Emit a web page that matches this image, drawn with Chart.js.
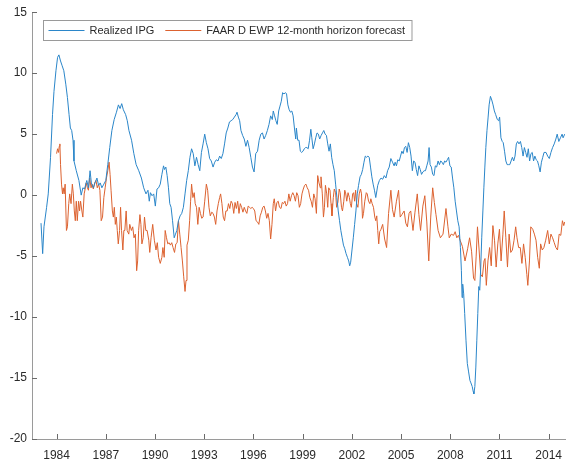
<!DOCTYPE html>
<html>
<head>
<meta charset="utf-8">
<title>Realized IPG vs FAAR D EWP forecast</title>
<script src="https://cdn.jsdelivr.net/npm/chart.js@4.4.1/dist/chart.umd.min.js"></script>
<style>
  html, body { margin: 0; padding: 0; background: #fff; }
  #wrap { width: 571px; height: 466px; }
</style>
</head>
<body>
<div id="wrap"><canvas id="ipgChart" width="571" height="466"></canvas></div>
<script>
// series names and tick labels
const seriesNames = ["Realized IPG", "FAAR D EWP 12-month horizon forecast"];
const yearTicks = [1984, 1987, 1990, 1993, 1996, 1999, 2002, 2005, 2008, 2011, 2014];
const valueTicks = [-20, -15, -10, -5, 0, 5, 10, 15];

// realized IPG (%)
const ipgYears = [
  1983.05, 1983.15, 1983.23, 1983.39, 1983.49, 1983.63, 1983.75, 1983.84, 1983.96, 1984.06,
  1984.14, 1984.24, 1984.34, 1984.44, 1984.56, 1984.66, 1984.76, 1984.84, 1984.92, 1985.0,
  1985.06, 1985.2, 1985.36, 1985.5, 1985.6, 1985.7, 1985.84, 1985.94, 1986.04, 1986.12,
  1986.24, 1986.34, 1986.46, 1986.56, 1986.66, 1986.76, 1986.88, 1987.0, 1987.12, 1987.24,
  1987.37, 1987.51, 1987.65, 1987.77, 1987.87, 1987.97, 1988.07, 1988.21, 1988.31, 1988.41,
  1988.57, 1988.71, 1988.85, 1989.01, 1989.17, 1989.31, 1989.45, 1989.57, 1989.65, 1989.72,
  1989.82, 1989.92, 1990.02, 1990.12, 1990.22, 1990.32, 1990.42, 1990.52, 1990.58, 1990.66,
  1990.74, 1990.82, 1990.9, 1990.98, 1991.07, 1991.17, 1991.25, 1991.33, 1991.43, 1991.53,
  1991.63, 1991.73, 1991.83, 1991.93, 1992.03, 1992.13, 1992.23, 1992.33, 1992.43, 1992.53,
  1992.63, 1992.73, 1992.83, 1992.93, 1993.03, 1993.13, 1993.23, 1993.33, 1993.43, 1993.54,
  1993.64, 1993.74, 1993.84, 1993.94, 1994.04, 1994.14, 1994.24, 1994.34, 1994.44, 1994.54,
  1994.64, 1994.74, 1994.84, 1994.94, 1995.0, 1995.08, 1995.16, 1995.24, 1995.34, 1995.44,
  1995.54, 1995.64, 1995.74, 1995.84, 1995.94, 1996.04, 1996.14, 1996.25, 1996.35, 1996.45,
  1996.55, 1996.65, 1996.75, 1996.85, 1996.95, 1997.05, 1997.15, 1997.21, 1997.29, 1997.37,
  1997.45, 1997.54, 1997.62, 1997.7, 1997.78, 1997.86, 1997.96, 1998.02, 1998.1, 1998.18,
  1998.26, 1998.34, 1998.42, 1998.5, 1998.58, 1998.62, 1998.7, 1998.78, 1998.86, 1998.94,
  1999.02, 1999.1, 1999.18, 1999.26, 1999.34, 1999.42, 1999.5, 1999.56, 1999.64, 1999.72,
  1999.8, 1999.88, 1999.96, 2000.04, 2000.13, 2000.21, 2000.29, 2000.37, 2000.45, 2000.53,
  2000.61, 2000.69, 2000.77, 2000.85, 2000.93, 2001.01, 2001.09, 2001.17, 2001.25, 2001.33,
  2001.41, 2001.49, 2001.57, 2001.65, 2001.73, 2001.81, 2001.87, 2001.93, 2002.01, 2002.09,
  2002.17, 2002.25, 2002.33, 2002.41, 2002.5, 2002.58, 2002.66, 2002.74, 2002.82, 2002.9,
  2002.98, 2003.06, 2003.14, 2003.22, 2003.3, 2003.38, 2003.46, 2003.58, 2003.68, 2003.78,
  2003.88, 2003.98, 2004.08, 2004.18, 2004.28, 2004.38, 2004.48, 2004.58, 2004.64, 2004.72,
  2004.8, 2004.89, 2004.97, 2005.05, 2005.13, 2005.21, 2005.29, 2005.37, 2005.45, 2005.53,
  2005.61, 2005.69, 2005.77, 2005.85, 2005.93, 2006.01, 2006.09, 2006.17, 2006.25, 2006.33,
  2006.41, 2006.49, 2006.57, 2006.65, 2006.71, 2006.77, 2006.85, 2006.93, 2007.01, 2007.09,
  2007.17, 2007.26, 2007.34, 2007.42, 2007.5, 2007.58, 2007.66, 2007.74, 2007.82, 2007.9,
  2007.98, 2008.06, 2008.14, 2008.22, 2008.3, 2008.38, 2008.46, 2008.54, 2008.62, 2008.68,
  2008.72, 2008.76, 2008.82, 2008.88, 2008.96, 2009.04, 2009.12, 2009.2, 2009.26, 2009.34,
  2009.4, 2009.44, 2009.5, 2009.56, 2009.62, 2009.68, 2009.74, 2009.8, 2009.86, 2009.92,
  2009.99, 2010.05, 2010.11, 2010.17, 2010.24, 2010.31, 2010.37, 2010.45, 2010.53, 2010.61,
  2010.69, 2010.77, 2010.87, 2010.95, 2011.01, 2011.09, 2011.17, 2011.23, 2011.31, 2011.39,
  2011.47, 2011.55, 2011.63, 2011.71, 2011.79, 2011.87, 2011.95, 2012.03, 2012.11, 2012.19,
  2012.28, 2012.36, 2012.44, 2012.52, 2012.6, 2012.68, 2012.76, 2012.84, 2012.92, 2013.0,
  2013.08, 2013.16, 2013.24, 2013.32, 2013.4, 2013.48, 2013.56, 2013.64, 2013.72, 2013.84,
  2013.94, 2014.04, 2014.14, 2014.24, 2014.34, 2014.44, 2014.52, 2014.62, 2014.72, 2014.82,
  2014.88, 2014.98
];
const ipgValues = [
  -2.3, -4.8, -2.6, -1.0, 0.1, 3.1, 6.6, 8.5, 10.2, 11.3,
  11.5, 11.0, 10.6, 10.2, 9.1, 8.0, 6.6, 5.5, 5.3, 4.5,
  2.8, 2.0, 1.2, 0.0, 0.6, 0.5, 1.2, 0.6, 2.0, 1.0,
  0.6, 1.0, 1.4, 0.8, 1.0, 0.6, 0.9, 1.2, 2.5, 3.9,
  5.3, 6.2, 6.8, 7.4, 7.1, 7.5, 7.0, 6.6, 6.1, 5.3,
  4.5, 3.4, 2.5, 2.0, 1.4, 0.6, 0.1, 0.4, -0.5, 0.2,
  -0.05, 0.1, -0.9, 0.5, 0.6, 0.9, 1.7, 2.4, 2.1, 2.3,
  1.6, 0.6, -0.7, -1.0, -2.1, -3.5, -3.2, -2.9, -2.1, -1.7,
  -1.5, -1.0, 0.1, 1.2, 2.0, 3.1, 3.8, 3.4, 2.4, 3.1,
  2.5, 2.0, 3.5, 4.2, 5.0, 4.3, 3.8, 3.0, 2.8, 2.3,
  2.7, 2.9, 2.8, 3.2, 3.0, 3.4, 4.2, 5.1, 5.5, 6.0,
  6.1, 6.2, 6.4, 6.6, 6.8, 6.4, 6.1, 5.3, 4.9, 4.6,
  4.0, 4.5, 3.9, 3.1, 2.3, 1.9, 3.4, 3.6, 4.5, 5.0,
  5.1, 4.6, 4.9, 5.3, 5.8, 6.5, 6.2, 6.9, 6.5, 6.1,
  5.8, 6.9, 7.3, 7.7, 8.4, 8.3, 8.4, 8.3, 7.4, 7.0,
  6.8, 6.9, 6.5, 5.5, 4.6, 5.5, 4.5, 4.5, 3.6, 3.5,
  3.6, 3.8, 3.9, 3.9, 3.8, 4.5, 5.4, 4.7, 3.8, 4.2,
  4.7, 5.1, 5.0, 4.6, 4.9, 5.1, 5.3, 5.0, 4.9, 4.2,
  3.6, 4.2, 3.1, 2.5, 2.0, 0.9, -0.2, -1.3, -2.1, -2.9,
  -3.5, -4.1, -4.4, -4.8, -5.1, -5.4, -5.8, -5.5, -4.5, -3.5,
  -2.4, -1.3, 0.1, 0.8, 1.5, 1.7, 2.1, 2.7, 3.2, 3.1,
  3.2, 3.1, 2.3, 1.5, 0.9, 0.4, -0.2, 0.8, 1.2, 1.4,
  1.3, 1.6, 1.4, 2.0, 2.3, 3.0, 2.7, 2.4, 2.7, 2.4,
  2.9, 2.8, 3.2, 3.6, 3.4, 3.9, 4.0, 3.5, 4.3, 3.9,
  3.2, 2.0, 2.8, 2.7, 2.1, 1.6, 2.4, 2.1, 1.7, 1.9,
  2.0, 2.0, 2.4, 2.8, 3.9, 2.5, 2.3, 1.7, 1.6, 2.4,
  2.3, 2.8, 2.5, 2.8, 2.7, 2.5, 2.8, 2.7, 2.9, 3.1,
  2.4, 2.3, 1.4, 0.6, -0.5, -1.3, -2.1, -2.6, -4.3, -6.2,
  -8.4, -7.3, -8.1, -9.7, -11.9, -13.8, -14.5, -15.2, -15.4, -15.7,
  -16.1, -16.3, -15.7, -14.1, -11.9, -9.7, -7.5, -7.8, -5.9, -3.5,
  -1.3, 0.6, 2.3, 3.9, 5.3, 6.4, 7.4, 8.1, 7.8, 7.4,
  6.9, 6.6, 6.2, 6.1, 6.4, 4.7, 4.4, 4.3, 3.6, 2.8,
  2.5, 2.5, 2.5, 2.8, 3.1, 2.8, 3.2, 4.2, 4.4, 4.2,
  4.4, 3.9, 3.2, 3.9, 3.5, 3.1, 3.8, 2.8, 3.4, 3.5,
  2.8, 3.2, 2.9, 2.8, 2.4, 1.9, 2.7, 3.1, 3.5, 3.5,
  3.2, 3.0, 3.5, 3.9, 4.2, 4.6, 5.0, 4.4, 4.7, 5.0,
  4.7, 5.0
];

// FAAR D EWP 12-month horizon forecast (%)
const fcstYears = [
  1984.0, 1984.06, 1984.12, 1984.16, 1984.2, 1984.24, 1984.3, 1984.36, 1984.4, 1984.46,
  1984.52, 1984.6, 1984.66, 1984.74, 1984.8, 1984.88, 1984.96, 1985.02, 1985.08, 1985.14,
  1985.2, 1985.26, 1985.34, 1985.4, 1985.46, 1985.54, 1985.6, 1985.68, 1985.74, 1985.8,
  1985.88, 1985.94, 1986.02, 1986.1, 1986.16, 1986.24, 1986.32, 1986.4, 1986.48, 1986.56,
  1986.64, 1986.72, 1986.8, 1986.88, 1986.96, 1987.04, 1987.12, 1987.2, 1987.26, 1987.32,
  1987.4, 1987.46, 1987.52, 1987.58, 1987.64, 1987.7, 1987.76, 1987.84, 1987.9, 1987.96,
  1988.04, 1988.1, 1988.16, 1988.24, 1988.3, 1988.4, 1988.46, 1988.56, 1988.64, 1988.72,
  1988.8, 1988.88, 1988.94, 1989.0, 1989.08, 1989.14, 1989.2, 1989.28, 1989.36, 1989.44,
  1989.52, 1989.62, 1989.68, 1989.76, 1989.86, 1989.96, 1990.06, 1990.14, 1990.22, 1990.32,
  1990.42, 1990.48, 1990.56, 1990.62, 1990.7, 1990.78, 1990.86, 1990.94, 1991.02, 1991.1,
  1991.19, 1991.27, 1991.35, 1991.43, 1991.51, 1991.59, 1991.67, 1991.75, 1991.83, 1991.89,
  1991.95, 1992.03, 1992.11, 1992.17, 1992.23, 1992.31, 1992.39, 1992.45, 1992.53, 1992.61,
  1992.69, 1992.77, 1992.85, 1992.93, 1993.03, 1993.13, 1993.21, 1993.29, 1993.37, 1993.46,
  1993.54, 1993.62, 1993.7, 1993.78, 1993.86, 1993.94, 1994.0, 1994.08, 1994.16, 1994.24,
  1994.32, 1994.4, 1994.48, 1994.56, 1994.64, 1994.72, 1994.8, 1994.88, 1994.96, 1995.04,
  1995.12, 1995.2, 1995.28, 1995.36, 1995.44, 1995.52, 1995.6, 1995.68, 1995.76, 1995.84,
  1995.92, 1996.0, 1996.08, 1996.16, 1996.25, 1996.33, 1996.41, 1996.49, 1996.57, 1996.65,
  1996.73, 1996.81, 1996.89, 1996.97, 1997.05, 1997.13, 1997.21, 1997.27, 1997.35, 1997.43,
  1997.51, 1997.59, 1997.68, 1997.76, 1997.84, 1997.92, 1998.0, 1998.08, 1998.16, 1998.24,
  1998.32, 1998.4, 1998.48, 1998.56, 1998.64, 1998.72, 1998.8, 1998.88, 1998.96, 1999.04,
  1999.12, 1999.2, 1999.28, 1999.36, 1999.44, 1999.52, 1999.6, 1999.68, 1999.76, 1999.84,
  1999.92, 2000.0, 2000.08, 2000.12, 2000.2, 2000.27, 2000.33, 2000.39, 2000.47, 2000.53,
  2000.59, 2000.67, 2000.73, 2000.79, 2000.87, 2000.93, 2001.01, 2001.07, 2001.15, 2001.23,
  2001.29, 2001.37, 2001.43, 2001.51, 2001.57, 2001.63, 2001.69, 2001.77, 2001.85, 2001.91,
  2001.97, 2002.05, 2002.11, 2002.17, 2002.23, 2002.29, 2002.37, 2002.45, 2002.53, 2002.59,
  2002.65, 2002.71, 2002.79, 2002.88, 2002.94, 2003.02, 2003.1, 2003.16, 2003.24, 2003.32,
  2003.4, 2003.46, 2003.52, 2003.58, 2003.64, 2003.7, 2003.78, 2003.88, 2004.0, 2004.12,
  2004.24, 2004.38, 2004.48, 2004.58, 2004.72, 2004.85, 2004.95, 2005.05, 2005.19, 2005.29,
  2005.39, 2005.49, 2005.59, 2005.73, 2005.85, 2005.99, 2006.09, 2006.19, 2006.33, 2006.45,
  2006.57, 2006.69, 2006.81, 2006.93, 2007.03, 2007.13, 2007.26, 2007.4, 2007.56, 2007.74,
  2007.86, 2007.94, 2008.06, 2008.2, 2008.3, 2008.4, 2008.5, 2008.6, 2008.74, 2008.9,
  2009.06, 2009.18, 2009.3, 2009.42, 2009.5, 2009.58, 2009.66, 2009.76, 2009.86, 2009.96,
  2010.06, 2010.12, 2010.2, 2010.3, 2010.4, 2010.5, 2010.6, 2010.7, 2010.8, 2010.9,
  2011.0, 2011.1, 2011.21, 2011.29, 2011.39, 2011.49, 2011.59, 2011.69, 2011.79, 2011.89,
  2011.99, 2012.07, 2012.17, 2012.27, 2012.37, 2012.47, 2012.57, 2012.67, 2012.73, 2012.83,
  2012.91, 2013.03, 2013.13, 2013.23, 2013.33, 2013.43, 2013.51, 2013.61, 2013.71, 2013.82,
  2013.94, 2014.04, 2014.14, 2014.24, 2014.34, 2014.44, 2014.54, 2014.64, 2014.74, 2014.84,
  2014.92, 2014.98
];
const fcstValues = [
  3.4, 3.8, 3.5, 4.0, 4.2, 2.5, 0.9, 0.1, 0.6, 0.1,
  0.9, -2.9, -2.6, -0.7, 0.1, -0.7, 0.9, 0.1, -1.3, -2.1,
  -0.5, -2.1, -0.5, -1.3, -0.5, -1.3, -1.8, 0.1, 0.5, 1.0,
  0.6, 0.4, 1.4, 0.6, 0.9, 0.5, 1.0, 1.2, 0.6, 0.9,
  0.4, -2.1, -1.8, -0.2, 0.6, 1.4, 2.0, 2.7, 1.7, 0.4,
  -1.3, -1.8, -1.0, -2.4, -1.8, -2.9, -4.0, -2.9, -1.0, -2.9,
  -4.5, -2.9, -2.9, -1.3, -2.9, -3.2, -2.4, -2.9, -2.6, -3.5,
  -3.2, -6.2, -5.4, -2.9, -1.6, -2.4, -4.0, -3.5, -1.8, -2.9,
  -2.9, -3.7, -4.7, -3.5, -2.4, -3.7, -4.5, -3.9, -5.1, -5.6,
  -5.1, -4.3, -5.1, -2.9, -3.5, -4.0, -3.9, -4.1, -3.9, -4.3,
  -4.7, -4.0, -3.9, -2.1, -3.2, -4.3, -5.4, -6.7, -7.9, -7.0,
  -4.1, -3.7, -2.1, -0.5, 0.9, -0.2, 0.2, -0.7, -1.0, -2.4,
  -1.0, -1.5, -1.9, -1.8, -0.5, 0.9, 0.4, -1.0, -1.7, -1.4,
  -1.5, -1.8, -2.4, -1.3, -0.7, -0.2, 0.1, -0.7, -1.8, -2.1,
  -1.3, -1.3, -0.7, -1.1, -0.5, -0.7, -1.5, -0.6, -1.1, -0.5,
  -1.5, -0.7, -1.0, -1.4, -1.0, -1.3, -1.5, -0.9, -1.0, -1.1,
  -1.0, -1.1, -1.3, -2.1, -2.2, -2.4, -1.7, -1.4, -1.0, -0.9,
  -1.3, -1.9, -1.5, -2.1, -3.6, -2.4, -0.7, -0.3, -1.3, -0.6,
  -0.5, -1.0, -1.1, -0.6, -0.7, -0.5, -0.9, -0.7, 0.1, -0.5,
  -0.05, 0.2, -0.05, -0.5, 0.2, -0.05, -1.0, -0.7, 0.1, 0.5,
  0.8, 0.9, 0.6, 0.4, -0.2, -0.5, -1.0, 0.1, -0.3, -1.5,
  1.6, 1.0, 0.6, 1.5, 0.1, -1.8, -1.0, 0.8, 0.1, -1.0,
  0.6, 0.4, -0.7, -1.7, -0.2, 0.5, 0.2, -1.0, -0.6, 0.5,
  0.2, -1.0, -1.3, -0.5, 0.4, 0.1, -0.5, 0.2, -0.2, -0.7,
  -1.0, 0.1, 0.2, -0.5, 0.4, -0.7, -1.0, 0.1, 0.5, 0.1,
  -1.9, -1.5, -0.5, 0.2, 0.1, -0.5, -0.7, -0.3, -0.7, -1.0,
  -1.8, -2.1, -1.7, -2.9, -4.0, -3.0, -2.8, -2.4, -3.6, -4.3,
  -1.5, 0.4, -1.2, -1.8, -0.5, 0.4, -1.8, -1.6, -1.3, -2.3,
  -2.6, -1.5, -1.3, -2.9, -1.4, 0.1, -1.6, -2.9, -0.9, -0.05,
  -2.2, -5.4, -1.8, 0.6, -0.6, -1.6, -2.9, -3.5, -3.2, -1.1,
  -2.6, -3.5, -3.2, -3.3, -3.0, -3.5, -3.3, -3.7, -4.2, -5.4,
  -4.4, -3.5, -4.6, -6.8, -7.0, -5.0, -2.6, -4.5, -6.5, -6.7,
  -5.4, -5.2, -7.4, -5.4, -4.3, -5.8, -2.5, -3.7, -5.9, -4.0,
  -2.8, -5.4, -3.2, -1.3, -3.5, -5.9, -3.2, -4.7, -4.5, -3.7,
  -2.6, -3.5, -4.3, -4.3, -5.6, -4.0, -5.1, -6.5, -7.4, -5.4,
  -2.6, -2.8, -3.2, -3.7, -5.1, -6.0, -4.0, -4.5, -4.3, -3.7,
  -2.9, -4.0, -3.2, -3.5, -3.9, -4.3, -4.5, -3.2, -3.3, -2.1,
  -2.5, -2.2
];

const blue = "#2b86c9";
const orange = "#dc6230";
const axisColor = "#9a9a9a";
const tickColor = "#6a6a6a";
const textColor = "#2a2a2a";

function toPoints(xs, ys) {
  return xs.map((x, i) => ({ x: x, y: ys[i] }));
}

// MATLAB-style inward ticks plus a boxed legend inside the axes
const matlabLook = {
  id: "matlabLook",
  afterDraw(chart) {
    const ctx = chart.ctx;
    const area = chart.chartArea;
    const xs = chart.scales.x;
    const ys = chart.scales.y;
    ctx.save();
    ctx.strokeStyle = tickColor;
    ctx.lineWidth = 1;
    ctx.beginPath();
    xs.ticks.forEach(t => {
      const px = Math.round(xs.getPixelForValue(t.value)) + 0.5;
      ctx.moveTo(px, area.bottom);
      ctx.lineTo(px, area.bottom - 5);
    });
    ys.ticks.forEach(t => {
      const py = Math.round(ys.getPixelForValue(t.value)) + 0.5;
      ctx.moveTo(area.left, py);
      ctx.lineTo(area.left + 5, py);
    });
    ctx.stroke();

    // legend
    ctx.font = "11px 'Liberation Sans', Arial, sans-serif";
    ctx.textBaseline = "middle";
    ctx.textAlign = "left";
    const boxX = 43.5, boxY = 20.5, boxH = 20;
    const midY = boxY + boxH / 2;
    let x = boxX + 5;
    chart.data.datasets.forEach(ds => {
      ctx.strokeStyle = ds.borderColor;
      ctx.beginPath();
      ctx.moveTo(x, midY);
      ctx.lineTo(x + 36, midY);
      ctx.stroke();
      x += 41;
      ctx.fillStyle = textColor;
      ctx.fillText(ds.label, x, midY + 0.5);
      x += ctx.measureText(ds.label).width + 11;
    });
    ctx.strokeStyle = axisColor;
    ctx.strokeRect(boxX, boxY, x - 4 - boxX, boxH);
    ctx.restore();
  }
};

new Chart(document.getElementById("ipgChart"), {
  type: "line",
  data: {
    datasets: [
      {
        label: seriesNames[0],
        data: toPoints(ipgYears, ipgValues),
        borderColor: blue,
        borderWidth: 1,
        pointRadius: 0,
        tension: 0,
        fill: false
      },
      {
        label: seriesNames[1],
        data: toPoints(fcstYears, fcstValues),
        borderColor: orange,
        borderWidth: 1,
        pointRadius: 0,
        tension: 0,
        fill: false
      }
    ]
  },
  options: {
    responsive: false,
    animation: false,
    devicePixelRatio: 1,
    layout: { padding: { top: 11, right: 0, bottom: 0, left: 0 } },
    plugins: {
      legend: { display: false },
      tooltip: { enabled: false }
    },
    scales: {
      x: {
        type: "linear",
        min: 1982.5,
        max: 2015,
        afterBuildTicks: s => { s.ticks = yearTicks.map(v => ({ value: v })); },
        afterFit: s => { s.height = 27; },
        grid: { display: false, drawTicks: false },
        border: { color: axisColor, width: 1 },
        ticks: {
          autoSkip: false,
          maxRotation: 0,
          padding: 9,
          color: textColor,
          font: { family: "'Liberation Sans', Arial, sans-serif", size: 12 },
          callback: v => String(v)
        }
      },
      y: {
        min: -20,
        max: 15,
        afterBuildTicks: s => { s.ticks = valueTicks.map(v => ({ value: v })); },
        afterFit: s => { s.width = 32; },
        grid: { display: false, drawTicks: false },
        border: { color: axisColor, width: 1 },
        ticks: {
          padding: 5,
          color: textColor,
          font: { family: "'Liberation Sans', Arial, sans-serif", size: 12 },
          callback: v => String(v)
        }
      }
    }
  },
  plugins: [matlabLook]
});
</script>
</body>
</html>
